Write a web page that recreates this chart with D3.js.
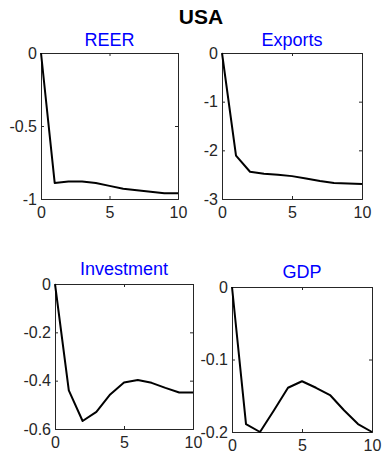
<!DOCTYPE html>
<html>
<head>
<meta charset="utf-8">
<script src="https://cdn.jsdelivr.net/npm/d3@7"></script>
<style>
  html, body { margin: 0; padding: 0; background: #fff; }
  svg { display: block; }
  text { font-family: "Liberation Sans", Arial, Helvetica, sans-serif; }
</style>
</head>
<body>
<svg id="chart" width="383" height="455"></svg>
<script>
// Impulse responses, horizons 0..10
const horizon = [0, 1, 2, 3, 4, 5, 6, 7, 8, 9, 10];
const reer       = [0, -0.89, -0.88, -0.88, -0.89, -0.91, -0.93, -0.94, -0.95, -0.96, -0.96];
const exportsIrf = [0, -2.11, -2.44, -2.48, -2.50, -2.53, -2.58, -2.63, -2.67, -2.68, -2.69];
const investment = [0, -0.44, -0.567, -0.529, -0.457, -0.408, -0.397, -0.409, -0.43, -0.449, -0.449];
const gdp        = [0, -0.189, -0.2, -0.17, -0.139, -0.13, -0.139, -0.149, -0.17, -0.189, -0.2];

const xTicks = [0, 5, 10];
const reerTicks = [-1, -0.5, 0];
const exportsTicks = [-3, -2, -1, 0];
const investmentTicks = [-0.6, -0.4, -0.2, 0];
const gdpTicks = [-0.2, -0.1, 0];

const panels = [
  { title: "REER", values: reer, domain: [-1, 0], ticks: reerTicks,
    box: { l: 41, r: 178, t: 53, b: 199 }, titleY: 46 },
  { title: "Exports", values: exportsIrf, domain: [-3, 0], ticks: exportsTicks,
    box: { l: 222, r: 362, t: 53, b: 199 }, titleY: 46 },
  { title: "Investment", values: investment, domain: [-0.6, 0], ticks: investmentTicks,
    box: { l: 55, r: 193, t: 284, b: 429 }, titleY: 275 },
  { title: "GDP", values: gdp, domain: [-0.2, 0], ticks: gdpTicks,
    box: { l: 232, r: 372, t: 287, b: 432 }, titleY: 278 }
];

const svg = d3.select("#chart");
const axisColor = "#262626";
const tickLen = 3;

svg.append("text")
  .attr("x", 201).attr("y", 24)
  .attr("text-anchor", "middle")
  .attr("font-size", 21).attr("font-weight", "bold")
  .attr("fill", "#000")
  .text("USA");

panels.forEach(p => {
  const b = p.box;
  const x = d3.scaleLinear().domain([0, 10]).range([b.l, b.r]);
  const y = d3.scaleLinear().domain(p.domain).range([b.b, b.t]);
  const g = svg.append("g");

  // Box with inward ticks on all four sides
  g.append("g").attr("transform", `translate(0,${b.b})`)
    .call(d3.axisBottom(x).tickValues(xTicks).tickSize(-tickLen).tickPadding(8).tickFormat(d3.format("d")));
  g.append("g").attr("transform", `translate(0,${b.t})`)
    .call(d3.axisTop(x).tickValues(xTicks).tickSize(-tickLen).tickFormat(""));
  g.append("g").attr("transform", `translate(${b.l},0)`)
    .call(d3.axisLeft(y).tickValues(p.ticks).tickSize(-tickLen).tickPadding(4).tickFormat(d => d === 0 ? "0" : String(d)));
  g.append("g").attr("transform", `translate(${b.r},0)`)
    .call(d3.axisRight(y).tickValues(p.ticks).tickSize(-tickLen).tickFormat(""));

  g.selectAll(".domain").attr("stroke", axisColor).attr("stroke-width", 1);
  g.selectAll(".tick line").attr("stroke", axisColor);
  g.selectAll(".tick text")
    .attr("font-size", 16)
    .attr("fill", axisColor)
    .attr("font-family", "'Liberation Sans', Arial, sans-serif");

  // Response line
  const line = d3.line().x((d, i) => x(horizon[i])).y(d => y(d));
  g.append("path")
    .datum(p.values)
    .attr("fill", "none")
    .attr("stroke", "#000")
    .attr("stroke-width", 2)
    .attr("stroke-linejoin", "round")
    .attr("d", line);

  g.append("text")
    .attr("x", (b.l + b.r) / 2).attr("y", p.titleY)
    .attr("text-anchor", "middle")
    .attr("font-size", 18)
    .attr("fill", "#0000ff")
    .text(p.title);
});
</script>
</body>
</html>
